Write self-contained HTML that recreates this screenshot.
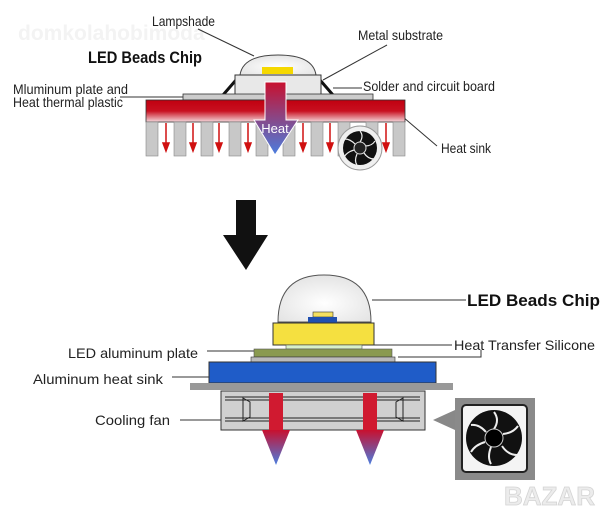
<!DOCTYPE html>
<html><head><meta charset="utf-8"><style>
html,body{margin:0;padding:0;background:#fff;}
svg{display:block;font-family:"Liberation Sans",sans-serif;}
</style></head><body>
<svg width="613" height="516" viewBox="0 0 613 516" xmlns="http://www.w3.org/2000/svg">
<defs>
<linearGradient id="rb" x1="0" y1="0" x2="0" y2="1"><stop offset="0" stop-color="#c8102e"/><stop offset="1" stop-color="#4a7ee0"/></linearGradient>
<linearGradient id="hs" x1="0" y1="0" x2="0" y2="1"><stop offset="0" stop-color="#c00010"/><stop offset="0.5" stop-color="#c81020"/><stop offset="1" stop-color="#f4d8dc"/></linearGradient>
<radialGradient id="dome" cx="0.5" cy="0.6" r="0.6"><stop offset="0" stop-color="#fff"/><stop offset="1" stop-color="#e4e4e4"/></radialGradient>
</defs>
<text x="18" y="40" font-size="21" font-weight="bold" fill="#f3f3f3">domkolahobimoda</text>
<!-- top diagram -->
<text x="152" y="26" font-size="14" fill="#222" textLength="63" lengthAdjust="spacingAndGlyphs">Lampshade</text>
<text x="88" y="63" font-size="17" font-weight="bold" fill="#111" textLength="114" lengthAdjust="spacingAndGlyphs">LED Beads Chip</text>
<text x="358" y="40" font-size="14" fill="#222" textLength="85" lengthAdjust="spacingAndGlyphs">Metal substrate</text>
<text x="363" y="91" font-size="14" fill="#222" textLength="132" lengthAdjust="spacingAndGlyphs">Solder and circuit board</text>
<text x="13" y="94" font-size="14" fill="#222" textLength="115" lengthAdjust="spacingAndGlyphs">Mluminum plate and</text>
<text x="13" y="107" font-size="14" fill="#222" textLength="110" lengthAdjust="spacingAndGlyphs">Heat thermal plastic</text>
<text x="441" y="153" font-size="14" fill="#222" textLength="50" lengthAdjust="spacingAndGlyphs">Heat sink</text>
<g stroke="#333" stroke-width="1" fill="none">
<line x1="198" y1="29" x2="254" y2="56"/>
<line x1="387" y1="45" x2="323" y2="80"/>
<line x1="333" y1="88" x2="362" y2="88"/>
<line x1="120" y1="97" x2="183" y2="97"/>
<line x1="403" y1="117" x2="437" y2="146"/>
</g>
<path d="M240 75 Q243 55 278 55 Q313 55 316 75 Z" fill="url(#dome)" stroke="#444"/>
<rect x="262" y="67" width="31" height="7" fill="#f5d800"/>
<path d="M236 80 L223 95 M320 80 L333 95" stroke="#111" stroke-width="3"/>
<rect x="235" y="75" width="86" height="21" fill="#e8e8e8" stroke="#333"/>
<rect x="183" y="94" width="190" height="6" fill="#ccc" stroke="#333" stroke-width="0.8"/>
<rect x="146" y="100" width="259" height="22" fill="url(#hs)" stroke="#333" stroke-width="0.8"/>
<g fill="#c8c8c8" stroke="#888" stroke-width="0.6">
<rect x="146" y="122" width="12" height="34"/><rect x="174" y="122" width="12" height="34"/><rect x="201" y="122" width="12" height="34"/><rect x="229" y="122" width="12" height="34"/><rect x="256" y="122" width="12" height="34"/><rect x="283" y="122" width="12" height="34"/><rect x="311" y="122" width="12" height="34"/><rect x="338" y="122" width="12" height="34"/><rect x="366" y="122" width="12" height="34"/><rect x="393" y="122" width="12" height="34"/>
</g>
<g stroke="#d01010" stroke-width="1.5" fill="#d01010">
<line x1="166" y1="123" x2="166" y2="144"/><path d="M163 143 L169 143 L166 151Z"/>
<line x1="193" y1="123" x2="193" y2="144"/><path d="M190 143 L196 143 L193 151Z"/>
<line x1="219" y1="123" x2="219" y2="144"/><path d="M216 143 L222 143 L219 151Z"/>
<line x1="248" y1="123" x2="248" y2="144"/><path d="M245 143 L251 143 L248 151Z"/>
<line x1="303" y1="123" x2="303" y2="144"/><path d="M300 143 L306 143 L303 151Z"/>
<line x1="330" y1="123" x2="330" y2="144"/><path d="M327 143 L333 143 L330 151Z"/>
<line x1="386" y1="123" x2="386" y2="144"/><path d="M383 143 L389 143 L386 151Z"/>
</g>
<path d="M265 82 L286 82 L286 120 L298 120 L275 155 L254 120 L265 120 Z" fill="url(#rb)" stroke="#fff" stroke-width="1"/>
<text x="275" y="133" font-size="13" fill="#fff" text-anchor="middle">Heat</text>
<circle cx="360" cy="148" r="22" fill="#f0f0f0" stroke="#999"/>
<circle cx="360" cy="148" r="17" fill="#111"/>
<g stroke="#eee" stroke-width="1.2" fill="none">
<path d="M360 142 Q364 136 360 131"/><path d="M365 146 Q372 146 375 141"/><path d="M364 153 Q368 159 374 159"/><path d="M357 154 Q354 161 357 165"/><path d="M354 150 Q347 152 344 157"/><path d="M355 144 Q350 139 345 139"/>
</g>
<circle cx="360" cy="148" r="6" fill="#222" stroke="#ddd"/>
<!-- big arrow -->
<path d="M236 200 L256 200 L256 235 L268 235 L246 270 L223 235 L236 235 Z" fill="#111"/>
<!-- bottom diagram -->
<text x="467" y="306" font-size="17" font-weight="bold" fill="#111" textLength="133" lengthAdjust="spacingAndGlyphs">LED Beads Chip</text>
<text x="454" y="350" font-size="14" fill="#222" textLength="141" lengthAdjust="spacingAndGlyphs">Heat Transfer Silicone</text>
<text x="68" y="358" font-size="14" fill="#222" textLength="130" lengthAdjust="spacingAndGlyphs">LED aluminum plate</text>
<text x="33" y="384" font-size="14" fill="#222" textLength="130" lengthAdjust="spacingAndGlyphs">Aluminum heat sink</text>
<text x="95" y="425" font-size="14" fill="#222" textLength="75" lengthAdjust="spacingAndGlyphs">Cooling fan</text>
<g stroke="#333" stroke-width="1" fill="none">
<line x1="372" y1="300" x2="466" y2="300"/>
<line x1="362" y1="345" x2="452" y2="345"/>
<polyline points="398,357 481,357 481,350"/>
<line x1="207" y1="351" x2="254" y2="351"/>
<line x1="172" y1="377" x2="209" y2="377"/>
<line x1="180" y1="420" x2="221" y2="420"/>
</g>
<path d="M278 322 Q278 275 324 275 Q371 275 371 322 Z" fill="url(#dome)" stroke="#555"/>
<rect x="313" y="312" width="20" height="5" fill="#f5e060" stroke="#333" stroke-width="0.6"/>
<rect x="308" y="317" width="29" height="6" fill="#2050b0"/>
<rect x="273" y="323" width="101" height="22" fill="#f5e040" stroke="#333"/>
<rect x="286" y="345" width="76" height="4" fill="#d8f0c8" stroke="#555" stroke-width="0.6"/>
<rect x="254" y="349" width="138" height="8" fill="#8a9a50" stroke="#555" stroke-width="0.6"/>
<rect x="251" y="357" width="144" height="5" fill="#bbb" stroke="#333" stroke-width="0.6"/>
<rect x="209" y="362" width="227" height="21" fill="#1f5cc8" stroke="#333"/>
<rect x="190" y="383" width="263" height="7" fill="#999"/>
<rect x="221" y="391" width="204" height="39" fill="#d0d0d0" stroke="#333"/>
<g stroke="#222" stroke-width="1" fill="none">
<line x1="225" y1="397" x2="420" y2="397"/><line x1="225" y1="400" x2="420" y2="400"/>
<line x1="225" y1="418" x2="420" y2="418"/><line x1="225" y1="421" x2="420" y2="421"/>
<path d="M243 398 L250 402 L250 417 L243 421 Z M403 398 L396 402 L396 417 L403 421 Z"/>
</g>
<rect x="269" y="393" width="14" height="37" fill="#d01a30"/>
<rect x="363" y="393" width="14" height="37" fill="#d01a30"/>
<path d="M262 430 L290 430 L276 465 Z" fill="url(#rb)"/>
<path d="M356 430 L384 430 L370 465 Z" fill="url(#rb)"/>
<path d="M433 420 L455 410 L455 430 Z" fill="#888"/>
<rect x="455" y="398" width="80" height="82" fill="#8a8a8a"/>
<rect x="462" y="405" width="65" height="67" rx="4" fill="#f4f4f4" stroke="#222" stroke-width="2"/>
<circle cx="494" cy="438" r="28" fill="#111"/>
<g stroke="#eee" stroke-width="2" fill="none">
<path d="M494 429 Q500 420 494 412"/><path d="M503 434 Q513 433 518 426"/><path d="M502 446 Q508 455 517 455"/><path d="M491 447 Q487 457 491 464"/><path d="M485 442 Q475 445 471 452"/><path d="M486 432 Q479 424 471 425"/>
</g>
<circle cx="494" cy="438" r="9" fill="#000" stroke="#ccc"/>
<text x="504" y="505" font-size="26" font-weight="bold" fill="#ececec" stroke="#d4d4d4" stroke-width="0.8">BAZAR</text>
</svg>
</body></html>
